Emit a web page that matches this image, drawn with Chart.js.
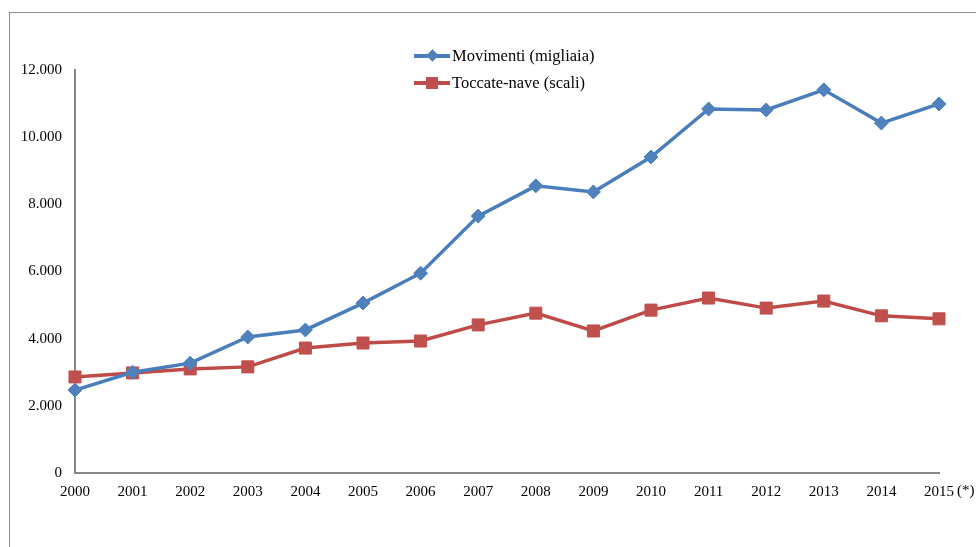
<!DOCTYPE html>
<html>
<head>
<meta charset="utf-8">
<script src="https://cdn.jsdelivr.net/npm/chart.js@4/dist/chart.umd.min.js"></script>
<style>
  html, body { margin: 0; padding: 0; background: #fff; overflow: hidden; }
  #wrap { position: relative; width: 976px; height: 547px; }
  #frame { position: absolute; left: 9px; top: 12px; width: 1100px; height: 700px; border: 1px solid #8e8e8e; }
  #chart { position: absolute; left: 0; top: 0; }
  .legend { position: absolute; left: 414px; top: 42px; font-family: "Liberation Serif", "Times New Roman", serif; font-size: 16.5px; color: #000; }
  .row { position: relative; height: 27px; line-height: 27px; padding-left: 38px; white-space: nowrap; }
  .row .ln { position: absolute; left: 0; top: 11.5px; width: 36px; height: 4px; }
  .row .mk { position: absolute; }
</style>
</head>
<body>
<div id="wrap">
  <div id="frame"></div>
  <canvas id="chart" width="976" height="547"></canvas>
  <div class="legend" id="legend"></div>
</div>
<script>
// --- dati ---
const anni = ['2000', '2001', '2002', '2003', '2004', '2005', '2006', '2007',
              '2008', '2009', '2010', '2011', '2012', '2013', '2014', '2015'];
const notaUltimoAnno = '(*)';
const movimenti = [2470, 3000, 3270, 4050, 4260, 5060, 5950, 7650,
                   8550, 8370, 9410, 10840, 10810, 11410, 10420, 10990];
const toccateNave = [2860, 2980, 3100, 3160, 3720, 3870, 3930, 4410,
                     4760, 4230, 4850, 5210, 4910, 5120, 4680, 4590];
const yTicks = [0, 2000, 4000, 6000, 8000, 10000, 12000];

const blu = '#4A7EBB', bluMk = '#4F81BD';
const rosso = '#BE4B48', rossoMk = '#C0504D';
const serif = '"Liberation Serif", "Times New Roman", serif';

function formatIt(v) {
    return String(v).replace(/\B(?=(\d{3})+(?!\d))/g, '.');
}

// legenda in HTML (sovrapposta all'area del grafico come nell'originale)
const legenda = [
    { label: 'Movimenti (migliaia)', color: blu, mk: bluMk, shape: 'diamond' },
    { label: 'Toccate-nave (scali)', color: rosso, mk: rossoMk, shape: 'square' }
];
const legEl = document.getElementById('legend');
legenda.forEach(it => {
    const row = document.createElement('div');
    row.className = 'row';
    const ln = document.createElement('div');
    ln.className = 'ln';
    ln.style.background = it.color;
    const mk = document.createElement('div');
    mk.className = 'mk';
    mk.style.background = it.mk;
    if (it.shape === 'diamond') {
        Object.assign(mk.style, { width: '9px', height: '9px', left: '13.5px', top: '9px', transform: 'rotate(45deg)' });
    } else {
        Object.assign(mk.style, { width: '12px', height: '12px', left: '12px', top: '7.5px' });
    }
    row.appendChild(ln);
    row.appendChild(mk);
    row.appendChild(document.createTextNode(it.label));
    legEl.appendChild(row);
});

// "(*)" accanto all'ultima etichetta dell'asse x
const notaPlugin = {
    id: 'notaPlugin',
    afterDraw(chart) {
        const x = chart.scales.x;
        const ctx = chart.ctx;
        const last = anni.length - 1;
        const px = x.getPixelForValue(last);
        ctx.save();
        ctx.font = '15px ' + serif;
        const w = ctx.measureText(anni[last]).width;
        ctx.fillStyle = '#000';
        ctx.textBaseline = 'middle';
        ctx.textAlign = 'left';
        ctx.fillText(notaUltimoAnno, px + w / 2 + 3, 491);
        ctx.restore();
    }
};

new Chart(document.getElementById('chart').getContext('2d'), {
    type: 'line',
    data: {
        labels: anni,
        datasets: [
            {
                label: legenda[0].label, data: movimenti,
                borderColor: blu, borderWidth: 3.5, tension: 0,
                pointStyle: 'rectRot', pointRadius: 7, pointHoverRadius: 7,
                pointBackgroundColor: bluMk, pointBorderColor: bluMk, pointBorderWidth: 1
            },
            {
                label: legenda[1].label, data: toccateNave,
                borderColor: rosso, borderWidth: 3.5, tension: 0,
                pointStyle: 'rect', pointRadius: 8.5, pointHoverRadius: 8.5,
                pointBackgroundColor: rossoMk, pointBorderColor: rossoMk, pointBorderWidth: 1
            }
        ]
    },
    options: {
        responsive: false, animation: false,
        layout: { padding: { left: 0, right: 37, top: 70, bottom: 0 } },
        scales: {
            x: {
                offset: false,
                grid: { display: false, drawTicks: false },
                border: { display: true, color: '#868686', width: 2 },
                ticks: { color: '#000', font: { family: serif, size: 15 }, padding: 10, maxRotation: 0, autoSkip: false },
                afterFit(scale) { scale.height = 74; }
            },
            y: {
                min: 0, max: 12000,
                grid: { display: false, drawTicks: false },
                border: { display: true, color: '#868686', width: 2 },
                afterBuildTicks(scale) { scale.ticks = yTicks.map(v => ({ value: v })); },
                ticks: { color: '#000', font: { family: serif, size: 15 }, padding: 13, callback: v => formatIt(v) },
                afterFit(scale) { scale.width = 75; }
            }
        },
        plugins: { legend: { display: false }, tooltip: { enabled: false } }
    },
    plugins: [notaPlugin]
});
</script>
</body>
</html>
